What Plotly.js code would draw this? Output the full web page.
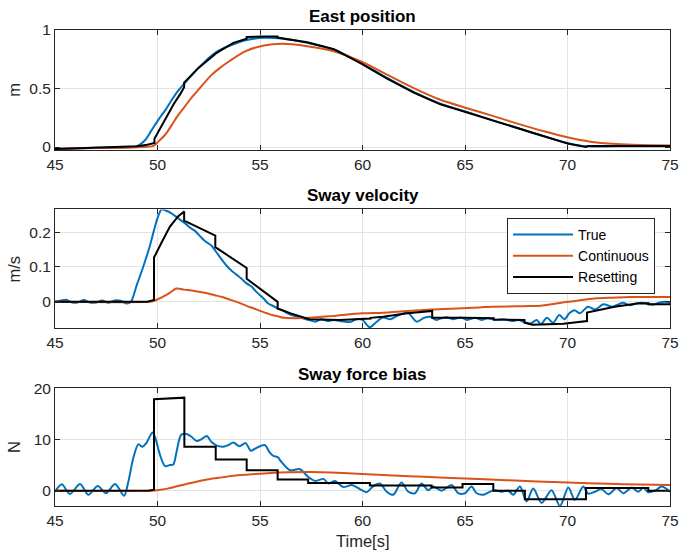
<!DOCTYPE html>
<html>
<head>
<meta charset="utf-8">
<script src="https://cdn.plot.ly/plotly-3.0.1.min.js"></script>
<style>html,body{margin:0;padding:0;background:#fff;}#chart{width:689px;height:554px;}</style>
</head>
<body>
<div id="chart"></div>
<script>
// ---------- East position [m] ----------
const posTrueT = [45, 47, 49, 49.4, 49.7, 50.04, 50.4, 50.7, 51.0, 51.33, 51.7, 52.0, 52.6, 53.0, 53.5, 54.3, 55.2, 56.05, 57.3, 58.6, 59.9, 61.2, 62.5, 63.8, 65.1, 66.35, 67.6, 68.9, 70.0, 70.5, 70.9, 72.4, 75];
const posTrue  = [-0.017, -0.006, 0.008, 0.06, 0.14, 0.232, 0.32, 0.404, 0.48, 0.547, 0.62, 0.676, 0.776, 0.825, 0.865, 0.913, 0.934, 0.928, 0.89, 0.833, 0.72, 0.59, 0.47, 0.37, 0.30, 0.228, 0.16, 0.089, 0.035, 0.015, 0.006, 0.006, 0.006];
const posContT = [45, 47, 49, 49.8, 50.04, 50.4, 50.7, 51.0, 51.33, 51.7, 52.0, 52.6, 53.0, 53.5, 54.3, 55.2, 56.05, 57.3, 58.6, 59.9, 61.2, 62.5, 63.8, 65.1, 66.35, 67.6, 68.9, 70.0, 71.1, 72.4, 73.5, 75];
const posCont  = [-0.017, -0.008, -0.002, 0.01, 0.046, 0.11, 0.189, 0.27, 0.346, 0.43, 0.49, 0.61, 0.67, 0.733, 0.819, 0.868, 0.882, 0.862, 0.819, 0.733, 0.619, 0.504, 0.404, 0.332, 0.266, 0.198, 0.132, 0.083, 0.046, 0.026, 0.018, 0.014];
const posResetT = [45, 47, 49, 49.5, 49.85, 49.85, 50.2, 50.5, 50.8, 51.1, 51.3, 51.3, 52.0, 52.85, 53.7, 54.35, 54.35, 55.2, 55.85, 55.85, 57.3, 58.6, 59.9, 61.2, 62.5, 63.8, 65.1, 66.35, 67.6, 68.9, 70.0, 70.9, 71.0, 72.4, 75];
const posReset  = [-0.017, -0.006, 0.006, 0.02, 0.035, 0.07, 0.18, 0.28, 0.37, 0.45, 0.51, 0.55, 0.676, 0.8, 0.89, 0.925, 0.94, 0.945, 0.945, 0.935, 0.895, 0.836, 0.716, 0.585, 0.465, 0.365, 0.295, 0.225, 0.155, 0.085, 0.03, 0.0, 0.008, 0.008, 0.008];

// ---------- Sway velocity [m/s] ----------
const velTrueT = [45, 45.3, 45.55, 45.8, 46.1, 46.4, 46.7, 47.0, 47.3, 47.6, 47.9, 48.2, 48.5, 48.7, 49.0, 49.3, 49.6, 49.85, 50.0, 50.2, 50.4, 50.7, 51.0, 51.35, 51.6, 51.8, 52.05, 52.3, 52.5, 52.65, 52.9, 53.1, 53.35, 53.6, 53.85, 54.1, 54.35, 54.6, 54.8, 55.0, 55.2, 55.4, 55.65, 55.9, 56.2, 56.45, 56.7, 57.0, 57.4, 57.7, 58.0, 58.3, 58.6, 59.0, 59.4, 59.7, 60.0, 60.35, 60.6, 61.0, 61.35, 61.7, 62.2, 62.65, 63.0, 63.3, 63.6, 63.8, 64.1, 64.4, 64.8, 65.1, 65.5, 65.8, 66.1, 66.5, 66.9, 67.3, 67.6, 67.9, 68.2, 68.5, 68.7, 69.0, 69.3, 69.6, 69.85, 70.1, 70.35, 70.6, 71.0, 71.35, 71.75, 72.2, 72.7, 73.05, 73.4, 73.7, 74.0, 74.2, 74.5, 74.75, 75];
const velTrue  = [0.0, 0.004, 0.006, -0.001, -0.002, 0.005, -0.002, -0.002, 0.004, -0.003, 0.004, 0.003, -0.005, 0.0, 0.05, 0.1, 0.155, 0.21, 0.24, 0.265, 0.262, 0.253, 0.24, 0.225, 0.212, 0.205, 0.19, 0.175, 0.167, 0.16, 0.14, 0.124, 0.105, 0.09, 0.078, 0.066, 0.053, 0.043, 0.03, 0.019, 0.008, -0.005, -0.012, -0.02, -0.028, -0.036, -0.041, -0.046, -0.052, -0.057, -0.05, -0.055, -0.052, -0.056, -0.058, -0.05, -0.052, -0.073, -0.062, -0.045, -0.05, -0.04, -0.031, -0.057, -0.046, -0.043, -0.052, -0.048, -0.044, -0.05, -0.045, -0.052, -0.046, -0.052, -0.047, -0.052, -0.05, -0.055, -0.052, -0.058, -0.062, -0.052, -0.064, -0.046, -0.06, -0.038, -0.05, -0.032, -0.024, -0.033, -0.014, -0.022, -0.007, -0.014, -0.003, -0.01, -0.004, -0.003, -0.007, -0.008, -0.002, 0.0, -0.002];
const velContT = [45, 49.6, 49.8, 50.0, 50.5, 50.93, 51.3, 51.8, 52.3, 52.8, 53.2, 53.6, 54.0, 54.4, 54.7, 55.0, 55.3, 55.6, 55.9, 56.2, 56.7, 57.4, 58.5, 60.0, 61.0, 62.2, 63.4, 64.6, 65.7, 66.3, 67.5, 68.2, 68.7, 69.3, 70.0, 70.7, 71.4, 72.2, 73.05, 74, 75];
const velCont  = [0, 0, 0.002, 0.007, 0.022, 0.038, 0.035, 0.031, 0.026, 0.019, 0.013, 0.005, -0.003, -0.013, -0.019, -0.026, -0.032, -0.038, -0.042, -0.046, -0.047, -0.046, -0.041, -0.033, -0.031, -0.026, -0.022, -0.019, -0.016, -0.014, -0.013, -0.012, -0.011, -0.006, 0.0, 0.005, 0.01, 0.012, 0.014, 0.014, 0.014];
const velResetT = [45, 49.5, 49.83, 49.83, 50.2, 50.6, 51.0, 51.3, 51.3, 52.82, 52.82, 54.35, 54.35, 55.86, 55.86, 56.5, 57.4, 58.9, 60.4, 60.4, 61.0, 62.2, 63.4, 63.4, 64.9, 66.4, 66.4, 67.9, 67.9, 68.3, 69.8, 70.95, 70.95, 71.6, 72.3, 73.4, 73.95, 73.95, 75];
const velReset  = [0, 0.0, 0.005, 0.127, 0.17, 0.215, 0.245, 0.259, 0.233, 0.19, 0.157, 0.097, 0.066, 0.0, -0.019, -0.033, -0.05, -0.052, -0.048, -0.046, -0.043, -0.033, -0.026, -0.046, -0.046, -0.047, -0.051, -0.052, -0.06, -0.066, -0.063, -0.055, -0.031, -0.022, -0.014, -0.005, -0.004, -0.007, -0.007];

// ---------- Sway force bias [N] ----------
const forceTrueT = [45, 45.33, 45.73, 46.22, 46.63, 47.08, 47.49, 47.93, 48.37, 48.58, 48.82, 49.07, 49.26, 49.47, 49.75, 49.88, 50.12, 50.37, 50.6, 50.77, 50.93, 51.15, 51.42, 51.67, 51.91, 52.15, 52.4, 52.64, 52.89, 53.2, 53.45, 53.7, 54.0, 54.3, 54.55, 54.75, 55.05, 55.25, 55.45, 55.65, 55.85, 56.05, 56.45, 56.95, 57.35, 57.7, 58.1, 58.33, 58.66, 59.06, 59.47, 59.87, 60.2, 60.5, 60.85, 61.18, 61.5, 61.9, 62.23, 62.56, 62.88, 63.2, 63.45, 63.86, 64.35, 64.67, 65.0, 65.32, 65.57, 65.89, 66.22, 66.46, 66.79, 67.11, 67.35, 67.68, 68.0, 68.33, 68.74, 69.22, 69.63, 70.04, 70.36, 70.77, 71.01, 71.34, 71.66, 71.99, 72.4, 72.72, 73.13, 73.45, 73.7, 73.94, 74.27, 74.6, 75];
const forceTrue  = [-0.2, 1.25, -0.65, 1.3, -0.8, 0.9, -0.5, 1.3, -1.0, 1.8, 6.4, 9.1, 8.6, 9.4, 11.4, 10.5, 7.0, 4.8, 5.0, 5.1, 7.6, 10.9, 11.1, 10.5, 9.7, 10.1, 10.7, 9.5, 8.8, 8.6, 8.9, 9.4, 8.7, 9.3, 7.8, 8.2, 8.8, 8.9, 7.6, 6.8, 6.6, 5.6, 4.0, 4.2, 2.7, 1.9, 2.3, 1.4, 1.9, 0.7, 1.1, 0.3, -0.3, 0.8, 1.4, -0.2, -0.8, 1.6, -0.2, -0.5, 1.4, 0.1, 0.8, 0.0, 1.1, -0.5, -0.5, 0.8, -0.5, -0.8, -0.2, 0.1, -0.2, 0.0, -0.8, 0.8, -2.1, 0.4, -2.4, 0.1, -3.0, 0.6, -1.8, 0.8, -0.6, -0.2, 0.3, -0.7, 0.5, -0.5, 0.6, -0.2, 0.6, -0.3, 0.0, 0.8, -0.2];
const forceContT = [45, 49.7, 50.0, 50.5, 51.0, 51.5, 52.0, 52.5, 53.13, 53.8, 54.76, 55.5, 56.38, 57.5, 58.5, 60.0, 61.5, 63.0, 65.0, 67.0, 68.5, 70.0, 72.0, 73.5, 75];
const forceCont  = [0, 0, 0.1, 0.4, 0.9, 1.4, 1.85, 2.25, 2.6, 2.95, 3.25, 3.45, 3.6, 3.65, 3.55, 3.25, 2.95, 2.7, 2.4, 2.05, 1.8, 1.6, 1.35, 1.2, 1.1];
const forceResetT = [45, 49.6, 49.83, 49.83, 51.31, 51.31, 52.84, 52.84, 54.35, 54.35, 55.86, 55.86, 57.35, 57.35, 60.36, 60.36, 63.37, 63.37, 64.88, 64.88, 66.38, 66.38, 67.92, 67.92, 70.9, 70.9, 73.94, 73.94, 75];
const forceReset  = [0, 0.05, 0.2, 17.9, 18.2, 8.6, 8.6, 6.1, 6.1, 4.0, 4.0, 2.2, 2.2, 1.5, 1.5, 1.0, 1.0, 0.6, 0.6, 1.3, 1.3, 0.0, 0.0, -1.7, -1.7, 0.5, 0.5, 0.0, 0.0];

const seriesNames = ['True', 'Continuous', 'Resetting'];
const panelTitles = ['East position', 'Sway velocity', 'Sway force bias'];
const unitLabels = ['m', 'm/s', 'N'];
const xLabel = 'Time[s]';

const BLUE = '#0072BD', ORANGE = '#D95319', BLACK = '#000000';
const FONT = 'Liberation Sans, Arial, Helvetica, sans-serif';
const TICK = 15.5;

function tr(x, y, name, color, xa, ya, show, shape) {
  return {x: x, y: y, name: name, type: 'scatter', mode: 'lines',
    line: {color: color, width: 2, shape: shape || 'linear', smoothing: 0.8},
    xaxis: xa, yaxis: ya, showlegend: show, hoverinfo: 'skip'};
}

const data = [
  tr(posTrueT, posTrue, seriesNames[0], BLUE, 'x', 'y', false, 'spline'),
  tr(posContT, posCont, seriesNames[1], ORANGE, 'x', 'y', false, 'spline'),
  tr(posResetT, posReset, seriesNames[2], BLACK, 'x', 'y', false),
  tr(velTrueT, velTrue, seriesNames[0], BLUE, 'x2', 'y2', true, 'spline'),
  tr(velContT, velCont, seriesNames[1], ORANGE, 'x2', 'y2', true, 'spline'),
  tr(velResetT, velReset, seriesNames[2], BLACK, 'x2', 'y2', true),
  tr(forceTrueT, forceTrue, seriesNames[0], BLUE, 'x3', 'y3', false, 'spline'),
  tr(forceContT, forceCont, seriesNames[1], ORANGE, 'x3', 'y3', false, 'spline'),
  tr(forceResetT, forceReset, seriesNames[2], BLACK, 'x3', 'y3', false)
];

function xax(anchor) {
  return {anchor: anchor, range: [45, 75], tickvals: [45, 50, 55, 60, 65, 70, 75],
    ticks: 'inside', ticklen: 5, tickcolor: '#262626', showline: true, mirror: 'ticks',
    linecolor: '#262626', linewidth: 1, showgrid: true, gridcolor: '#e3e3e3', zeroline: false,
    tickfont: {family: FONT, size: TICK, color: '#262626'}};
}
function yax(anchor, domain, range, vals, text) {
  return {anchor: anchor, domain: domain, range: range, tickvals: vals, ticktext: text,
    ticks: 'inside', ticklen: 5, tickcolor: '#262626', showline: true, mirror: 'ticks',
    linecolor: '#262626', linewidth: 1, showgrid: true, gridcolor: '#e3e3e3', zeroline: false,
    tickfont: {family: FONT, size: TICK, color: '#262626'}};
}

const dom = [[0.748, 1], [0.374, 0.623], [0, 0.247]];
const annotations = [];
for (let i = 0; i < 3; i++) {
  annotations.push({text: '<b>' + panelTitles[i] + '</b>', xref: 'paper', yref: 'paper', x: 0.5, y: dom[i][1],
    xanchor: 'center', yanchor: 'bottom', yshift: 2, showarrow: false,
    font: {family: FONT, size: 17, color: '#000'}});
  annotations.push({text: unitLabels[i], xref: 'paper', yref: 'paper', x: -0.067, y: (dom[i][0] + dom[i][1]) / 2,
    xanchor: 'center', yanchor: 'middle', textangle: -90, showarrow: false,
    font: {family: FONT, size: 16.5, color: '#262626'}});
}
annotations.push({text: xLabel, xref: 'paper', yref: 'paper', x: 0.5, y: -0.074,
  xanchor: 'center', yanchor: 'middle', showarrow: false, font: {family: FONT, size: 16.5, color: '#262626'}});

const layout = {
  width: 689, height: 554,
  margin: {l: 55, r: 19, t: 30, b: 48},
  paper_bgcolor: '#ffffff', plot_bgcolor: '#ffffff',
  font: {family: FONT, size: 14, color: '#262626'},
  xaxis: xax('y'), xaxis2: xax('y2'), xaxis3: xax('y3'),
  yaxis: yax('x', dom[0], [-0.025, 1], [0, 0.5, 1], ['0', '0.5', '1']),
  yaxis2: yax('x2', dom[1], [-0.075, 0.265], [0, 0.1, 0.2], ['0', '0.1', '0.2']),
  yaxis3: yax('x3', dom[2], [-3, 20], [0, 10, 20], ['0', '10', '20']),
  showlegend: true,
  legend: {x: 0.735, y: 0.605, xanchor: 'left', yanchor: 'top', bgcolor: '#ffffff',
    bordercolor: '#262626', borderwidth: 1, font: {family: FONT, size: 14, color: '#000'},
    tracegroupgap: 0, itemwidth: 60},
  annotations: annotations
};

Plotly.newPlot('chart', data, layout, {displayModeBar: false, staticPlot: true});
</script>
</body>
</html>
